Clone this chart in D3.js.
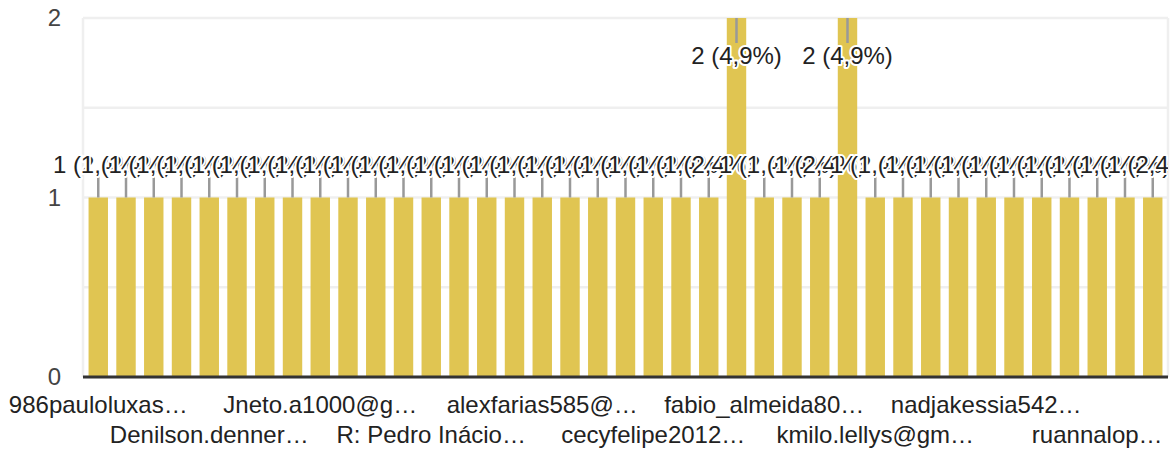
<!DOCTYPE html>
<html>
<head>
<meta charset="utf-8">
<script src="https://cdn.jsdelivr.net/npm/d3@7"></script>
<style>
  body { margin: 0; background: #fff; }
  text { font-family: "Liberation Sans", Arial, sans-serif; }
</style>
</head>
<body>
<div id="chart"></div>
<script>
// respondents (only every 4th name shows on the axis, the rest are left blank)
const categories = [
  "986pauloluxas…", "", "", "", "Denilson.denner…", "", "", "",
  "Jneto.a1000@g…", "", "", "", "R: Pedro Inácio…", "", "", "",
  "alexfarias585@…", "", "", "", "cecyfelipe2012…", "", "", "",
  "fabio_almeida80…", "", "", "", "kmilo.lellys@gm…", "", "", "",
  "nadjakessia542…", "", "", "", "ruannalop…", "", ""
]
const values = [
  1, 1, 1, 1, 1, 1, 1, 1, 1, 1, 1, 1, 1, 1, 1, 1, 1, 1, 1, 1,
  1, 1, 1, 2, 1, 1, 1, 2, 1, 1, 1, 1, 1, 1, 1, 1, 1, 1, 1
]
const yTicks = [0, 1, 2]
const gridTicks = [0, 0.5, 1, 1.5, 2]

const width = 1176
const height = 455
const plotLeft = 83, plotRight = 1168, plotTop = 18, plotBottom = 377
const total = d3.sum(values)

const svg = d3.select("#chart")
    .append("svg")
    .attr("width", width)
    .attr("height", height)

const x = d3.scaleBand()
    .domain(d3.range(values.length))
    .range([plotLeft, plotRight])
    .paddingInner(0.3)
    .paddingOuter(0.2)

const y = d3.scaleLinear()
    .domain([0, 2])
    .range([plotBottom, plotTop])

// frame + gridlines
svg.append("g")
    .selectAll("line")
    .data(gridTicks)
    .enter()
    .append("line")
    .attr("x1", plotLeft)
    .attr("x2", plotRight)
    .attr("y1", d => y(d))
    .attr("y2", d => y(d))
    .attr("stroke", "#efefef")
    .attr("stroke-width", 2.5)

svg.append("g")
    .selectAll("line")
    .data([plotLeft, plotRight])
    .enter()
    .append("line")
    .attr("x1", d => d)
    .attr("x2", d => d)
    .attr("y1", plotTop)
    .attr("y2", plotBottom)
    .attr("stroke", "#efefef")
    .attr("stroke-width", 2.5)

// y labels
svg.append("g")
    .selectAll("text")
    .data(yTicks)
    .enter()
    .append("text")
    .attr("x", 61)
    .attr("y", d => y(d))
    .attr("dy", "0.35em")
    .attr("text-anchor", "end")
    .attr("font-size", 24)
    .attr("fill", "#444")
    .text(d => d)

// bars
svg.append("g")
    .selectAll("rect")
    .data(values)
    .enter()
    .append("rect")
    .attr("x", (d, i) => x(i))
    .attr("y", d => y(d))
    .attr("width", x.bandwidth())
    .attr("height", d => y(0) - y(d))
    .attr("fill", "#e0c552")

// baseline
svg.append("line")
    .attr("x1", plotLeft)
    .attr("x2", plotRight)
    .attr("y1", y(0))
    .attr("y2", y(0))
    .attr("stroke", "#333")
    .attr("stroke-width", 3)

// annotations: stem + "n (p%)", inside the bar when it touches the top
svg.append("clipPath")
    .attr("id", "clip")
    .append("rect")
    .attr("x", 0)
    .attr("y", 0)
    .attr("width", plotRight)
    .attr("height", height)

const stem = 21
const ann = svg.append("g").attr("clip-path", "url(#clip)")
const inside = d => y(d) - stem - 24 < 0

ann.selectAll("line")
    .data(values)
    .enter()
    .append("line")
    .attr("x1", (d, i) => x(i) + x.bandwidth() / 2)
    .attr("x2", (d, i) => x(i) + x.bandwidth() / 2)
    .attr("y1", d => y(d))
    .attr("y2", d => inside(d) ? y(d) + stem + 4 : y(d) - stem)
    .attr("stroke", "#999")
    .attr("stroke-width", 2.5)

const pct = d3.format(".1f")
ann.selectAll("text")
    .data(values)
    .enter()
    .append("text")
    .attr("x", (d, i) => x(i) + x.bandwidth() / 2)
    .attr("y", d => inside(d) ? y(d) + stem + 25 : y(d) - stem - 4)
    .attr("text-anchor", "middle")
    .attr("font-size", 24)
    .attr("fill", "#222")
    .attr("stroke", "#fff")
    .attr("stroke-width", 4)
    .attr("stroke-linejoin", "round")
    .attr("paint-order", "stroke")
    .text(d => d + " (" + pct(d / total * 100).replace(".", ",") + "%)")

// x labels, staggered in two rows
svg.append("g")
    .selectAll("text")
    .data(categories.map((c, i) => ({ c, i })).filter(d => d.c !== ""))
    .enter()
    .append("text")
    .attr("x", d => x(d.i) + x.bandwidth() / 2)
    .attr("y", d => (d.i / 4) % 2 == 0 ? 413 : 443)
    .attr("text-anchor", "middle")
    .attr("font-size", 24)
    .attr("fill", "#222")
    .text(d => d.c)
</script>
</body>
</html>
